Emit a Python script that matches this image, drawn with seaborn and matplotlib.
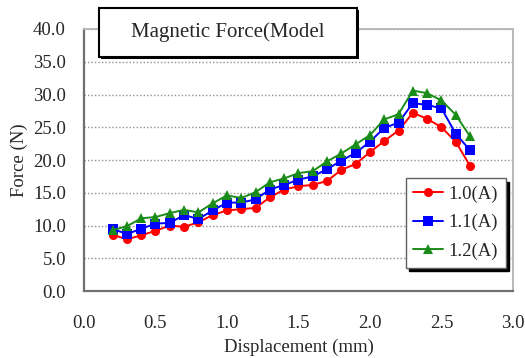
import numpy as np
import pandas as pd
import matplotlib
matplotlib.use("Agg")
import matplotlib.pyplot as plt
import seaborn as sns
from matplotlib.patches import Rectangle

# displacement (mm) and force (N)
displacement = [0.2, 0.3, 0.4, 0.5, 0.6, 0.7, 0.8, 0.9, 1.0, 1.1, 1.2, 1.3, 1.4,
                1.5, 1.6, 1.7, 1.8, 1.9, 2.0, 2.1, 2.2, 2.3, 2.4, 2.5, 2.6, 2.7]
force_10 = [8.6, 7.9, 8.5, 9.2, 10.0, 9.8, 10.5, 11.6, 12.3, 12.5, 12.7, 14.3, 15.5,
            16.0, 16.2, 16.8, 18.5, 19.4, 21.2, 22.9, 24.5, 27.2, 26.3, 25.0, 22.8, 19.1]
force_11 = [9.5, 8.7, 9.5, 10.3, 10.4, 11.6, 11.0, 12.3, 13.5, 13.5, 14.0, 15.5, 16.2,
            17.0, 17.5, 18.6, 19.9, 21.1, 22.8, 24.9, 25.7, 28.7, 28.4, 27.9, 24.0, 21.5]
force_12 = [9.3, 9.9, 11.1, 11.3, 11.9, 12.4, 12.0, 13.4, 14.6, 14.2, 15.1, 16.6, 17.2,
            18.0, 18.3, 19.8, 21.0, 22.4, 23.8, 26.2, 27.0, 30.6, 30.2, 29.1, 26.9, 23.6]
series_names = ["1.0(A)", "1.1(A)", "1.2(A)"]
x_ticks = [0.0, 0.5, 1.0, 1.5, 2.0, 2.5, 3.0]
y_ticks = [0, 5, 10, 15, 20, 25, 30, 35, 40]

df = pd.DataFrame({
    "Displacement": displacement * 3,
    "Force": force_10 + force_11 + force_12,
    "Current": [n for n in series_names for _ in displacement],
})

sns.set_theme(style="white")
plt.rcParams["font.family"] = ["Liberation Serif", "DejaVu Serif"]

fig = plt.figure(figsize=(5.25, 3.58), dpi=100)
ax = fig.add_axes([0.16, 0.187, 0.817, 0.732])

palette = {"1.0(A)": "#ff0000", "1.1(A)": "#0000ff", "1.2(A)": "#1a8c1a"}
markers = {"1.0(A)": "o", "1.1(A)": "s", "1.2(A)": "^"}
sns.lineplot(data=df, x="Displacement", y="Force", hue="Current", style="Current",
             palette=palette, markers=markers, dashes=False, markersize=6.5,
             markeredgewidth=0, linewidth=1.4, ax=ax)

ax.set_xlim(0, 3.0)
ax.set_ylim(0, 40)
ax.set_xticks(x_ticks)
ax.set_xticklabels([f"{t:.1f}" for t in x_ticks])
ax.set_yticks(y_ticks)
ax.set_yticklabels([f"{t:.1f}" for t in y_ticks])
ax.tick_params(axis="x", direction="in", length=3, pad=17, labelsize=13.5,
               color="#707070")
ax.tick_params(axis="y", direction="in", length=3, pad=13, labelsize=13.5,
               color="#707070")
ax.yaxis.grid(True, linestyle=(0, (1, 1.5)), color="#909090", linewidth=1)
ax.set_axisbelow(True)

for side in ["left", "bottom"]:
    ax.spines[side].set_color("#707070")
    ax.spines[side].set_linewidth(1.6)
for side in ["top", "right"]:
    ax.spines[side].set_color("#b8b8b8")
    ax.spines[side].set_linewidth(1.4)

ax.set_xlabel("Displacement (mm)", fontsize=13.5, labelpad=5)
ax.set_ylabel("Force (N)", fontsize=13.5, labelpad=4)

handles, labels = ax.get_legend_handles_labels()
leg = ax.legend(handles, labels, loc="upper left", bbox_to_anchor=(0.75, 0.431),
                fontsize=13.5, frameon=True, fancybox=False,
                shadow={"color": "black", "alpha": 1, "ox": 2.5, "oy": -2.5},
                edgecolor="#606060", framealpha=1, handlelength=1.6,
                handletextpad=0.3, labelspacing=0.6, borderpad=0.4,
                borderaxespad=0)
leg.get_frame().set_linewidth(1.0)

# title box overlapping the top of the plot area
tb_x0, tb_y0, tb_w, tb_h = 99 / 525, 1 - 57 / 358, 258 / 525, 49 / 358
fig.patches.append(Rectangle((tb_x0 + 0.004, tb_y0 - 0.006), tb_w, tb_h,
                             transform=fig.transFigure, facecolor="black",
                             edgecolor="none", zorder=9))
fig.patches.append(Rectangle((tb_x0, tb_y0), tb_w, tb_h, transform=fig.transFigure,
                             facecolor="white", edgecolor="black", linewidth=1.5,
                             zorder=10))
fig.text(tb_x0 + tb_w / 2, tb_y0 + tb_h / 2, "Magnetic Force(Model", ha="center",
         va="center", fontsize=15, zorder=11)

fig.savefig("out.png", dpi=100)
